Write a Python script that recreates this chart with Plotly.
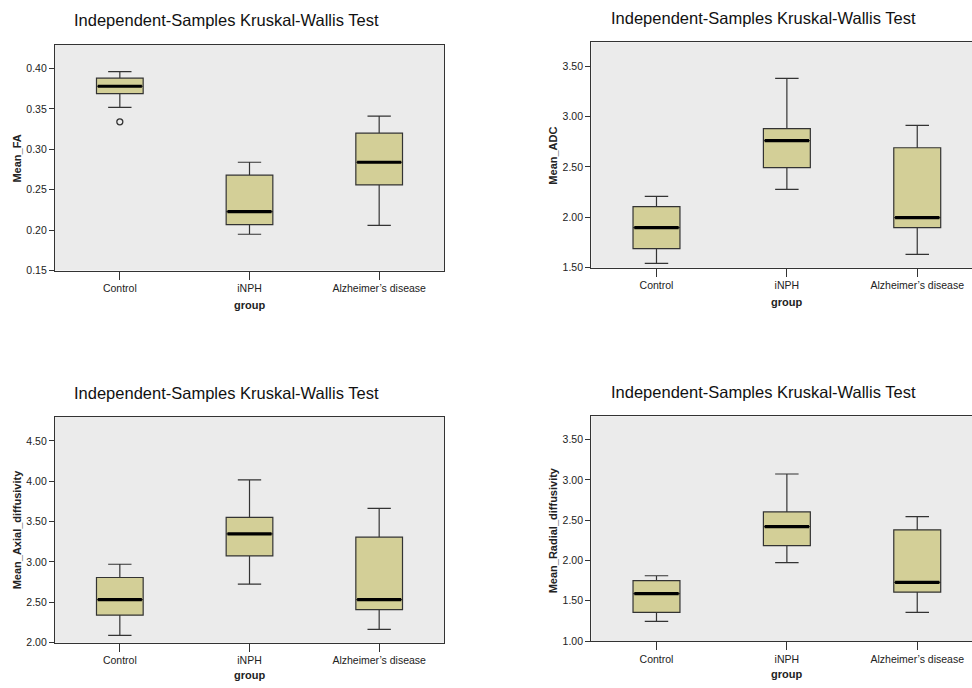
import plotly.graph_objects as go

# ---------------- data ----------------
groups = ["Control", "iNPH", "Alzheimer’s disease"]
title_text = "Independent-Samples Kruskal-Wallis Test"

fa_lower = [0.352, 0.195, 0.206]
fa_q1 = [0.369, 0.207, 0.256]
fa_median = [0.378, 0.223, 0.284]
fa_q3 = [0.388, 0.268, 0.320]
fa_upper = [0.396, 0.284, 0.341]
fa_outlier_group = ["Control"]
fa_outlier_value = [0.334]

adc_lower = [1.543, 2.277, 1.631]
adc_q1 = [1.689, 2.493, 1.898]
adc_median = [1.898, 2.761, 1.997]
adc_q3 = [2.105, 2.879, 2.690]
adc_upper = [2.207, 3.379, 2.911]

axial_lower = [2.090, 2.725, 2.164]
axial_q1 = [2.340, 3.074, 2.410]
axial_median = [2.533, 3.348, 2.533]
axial_q3 = [2.807, 3.553, 3.307]
axial_upper = [2.971, 4.016, 3.664]

radial_lower = [1.245, 1.975, 1.356]
radial_q1 = [1.356, 2.185, 1.607]
radial_median = [1.590, 2.422, 1.729]
radial_q3 = [1.750, 2.603, 2.381]
radial_upper = [1.811, 3.074, 2.545]

fa_ticks = [0.15, 0.20, 0.25, 0.30, 0.35, 0.40]
adc_ticks = [1.5, 2.0, 2.5, 3.0, 3.5]
axial_ticks = [2.0, 2.5, 3.0, 3.5, 4.0, 4.5]
radial_ticks = [1.0, 1.5, 2.0, 2.5, 3.0, 3.5]

# ---------------- style ----------------
W, H = 972, 688
FILL = "#D3CF97"
EDGE = "#333333"
BG = "#EBEBEB"
FONT = "Liberation Sans, Arial, sans-serif"
BOXW = 0.36

fig = go.Figure()

panels = [
    dict(n="", lower=fa_lower, q1=fa_q1, med=fa_median, q3=fa_q3, upper=fa_upper,
         ylab="Mean_FA", ticks=fa_ticks, fmt=".2f", yr=[0.15, 0.4295],
         dom_x=[55, 444], dom_y=[45, 273], xr=[-0.5, 2.5], right=True,
         title=(226, 20), xt=(249, 308), yt=(17, 160)),
    dict(n="2", lower=adc_lower, q1=adc_q1, med=adc_median, q3=adc_q3, upper=adc_upper,
         ylab="Mean_ADC", ticks=adc_ticks, fmt=".2f", yr=[1.5, 3.736],
         dom_x=[591.3, 972], dom_y=[42.7, 270], xr=[-0.5, 2.42], right=False,
         title=(763, 18), xt=(786, 305), yt=(553, 157)),
    dict(n="3", lower=axial_lower, q1=axial_q1, med=axial_median, q3=axial_q3, upper=axial_upper,
         ylab="Mean_Axial_diffusivity", ticks=axial_ticks, fmt=".2f", yr=[2.0, 4.795],
         dom_x=[55, 444], dom_y=[420.7, 648.3], xr=[-0.5, 2.5], right=True,
         title=(226, 396), xt=(249, 681), yt=(17, 535)),
    dict(n="4", lower=radial_lower, q1=radial_q1, med=radial_median, q3=radial_q3, upper=radial_upper,
         ylab="Mean_Radial_diffusivity", ticks=radial_ticks, fmt=".2f", yr=[1.0, 3.79],
         dom_x=[591.3, 972], dom_y=[420, 646.7], xr=[-0.5, 2.42], right=False,
         title=(763, 395), xt=(786, 680), yt=(553, 535)),
]

annotations = []
for p in panels:
    xa = "x" + p["n"]
    ya = "y" + p["n"]
    fig.add_trace(go.Box(
        x=groups, q1=p["q1"], median=p["med"], q3=p["q3"],
        lowerfence=p["lower"], upperfence=p["upper"],
        fillcolor=FILL, line=dict(color=EDGE, width=1.2), width=BOXW,
        whiskerwidth=0.5, boxpoints=False, xaxis=xa, yaxis=ya,
        showlegend=False, hoverinfo="skip"))
    # thick median bar
    fig.add_trace(go.Box(
        x=groups, q1=p["med"], median=p["med"], q3=p["med"],
        lowerfence=p["med"], upperfence=p["med"],
        fillcolor="rgba(0,0,0,0)", line=dict(color="#000000", width=3.2),
        width=BOXW - 0.02, whiskerwidth=0, boxpoints=False, xaxis=xa, yaxis=ya,
        showlegend=False, hoverinfo="skip"))

    layout_x = dict(
        domain=[p["dom_x"][0] / W, p["dom_x"][1] / W], anchor=ya,
        type="category", categoryorder="array", categoryarray=groups,
        range=p["xr"], showgrid=False, zeroline=False,
        showline=True, mirror=True, linecolor=EDGE, linewidth=1.3,
        ticks="outside", ticklen=8, tickcolor=EDGE, tickwidth=1,
        tickfont=dict(family=FONT, size=10.5, color="#222222"),
        fixedrange=True)
    layout_y = dict(
        domain=[1 - p["dom_y"][1] / H, 1 - p["dom_y"][0] / H], anchor=xa,
        range=p["yr"], tickvals=p["ticks"], tickformat=p["fmt"],
        showgrid=False, zeroline=False,
        showline=True, mirror=p["right"], linecolor=EDGE, linewidth=1.3,
        ticks="outside", ticklen=5, tickcolor=EDGE, tickwidth=1,
        tickfont=dict(family=FONT, size=10.5, color="#222222"),
        fixedrange=True)
    fig.layout["xaxis" + p["n"]] = layout_x
    fig.layout["yaxis" + p["n"]] = layout_y

    annotations.append(dict(
        text=title_text, xref="paper", yref="paper",
        x=p["title"][0] / W, y=1 - p["title"][1] / H, xanchor="center", yanchor="middle",
        showarrow=False, font=dict(family=FONT, size=16.5, color="#111111")))
    annotations.append(dict(
        text="<b>group</b>", xref="paper", yref="paper",
        x=p["xt"][0] / W, y=1 - p["xt"][1] / H, xanchor="center", yanchor="middle",
        showarrow=False, font=dict(family=FONT, size=11, color="#222222")))
    annotations.append(dict(
        text="<b>" + p["ylab"] + "</b>", xref="paper", yref="paper",
        x=p["yt"][0] / W, y=1 - p["yt"][1] / H, xanchor="center", yanchor="middle",
        textangle=-90, showarrow=False, font=dict(family=FONT, size=11, color="#222222")))

# outlier in FA control group
fig.add_trace(go.Scatter(
    x=fa_outlier_group, y=fa_outlier_value, mode="markers", xaxis="x", yaxis="y",
    marker=dict(symbol="circle-open", size=6, color=EDGE, line=dict(width=1.3)),
    showlegend=False, hoverinfo="skip"))

# plot backgrounds as shapes behind traces
shapes = []
for p in panels:
    shapes.append(dict(
        type="rect", xref="paper", yref="paper", layer="below",
        x0=p["dom_x"][0] / W, x1=p["dom_x"][1] / W,
        y0=1 - p["dom_y"][1] / H, y1=1 - p["dom_y"][0] / H,
        fillcolor=BG, line=dict(width=0)))

fig.update_layout(
    width=W, height=H, margin=dict(l=0, r=0, t=0, b=0),
    paper_bgcolor="white", plot_bgcolor="rgba(0,0,0,0)",
    boxmode="overlay", annotations=annotations, shapes=shapes,
    showlegend=False)

fig.write_html(
    "out.html",
    config={"displayModeBar": False},
    post_script="document.body.style.margin='0';document.body.style.overflow='hidden';",
)
